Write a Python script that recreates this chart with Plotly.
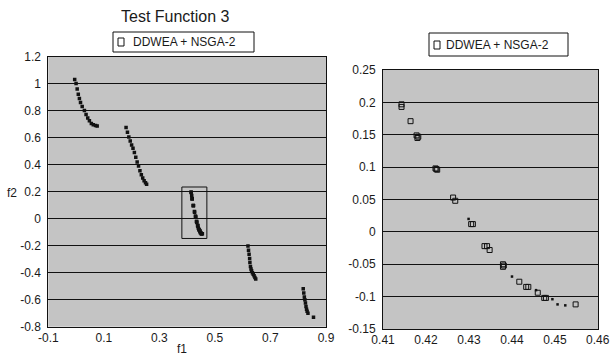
import plotly.graph_objects as go

# ---------------- data ----------------
# Left panel: whole Pareto front (f1, f2), segments other than the boxed one
front_f1 = [-0.005, 0.000, 0.004, 0.008, 0.012, 0.016, 0.022, 0.030, 0.036, 0.042, 0.048, 0.055, 0.062, 0.070, 0.076,
            0.180, 0.185, 0.190, 0.195, 0.200, 0.205, 0.210, 0.215, 0.220, 0.225, 0.230, 0.235, 0.240, 0.245, 0.250, 0.254,
            0.619, 0.621, 0.623, 0.625, 0.626, 0.628, 0.630, 0.632, 0.635, 0.638, 0.641, 0.644, 0.647,
            0.818, 0.820, 0.822, 0.824, 0.826, 0.828, 0.830, 0.832, 0.835, 0.855]
front_f2 = [1.03, 1.00, 0.96, 0.92, 0.89, 0.86, 0.83, 0.80, 0.77, 0.745, 0.725, 0.705, 0.695, 0.690, 0.685,
            0.675, 0.640, 0.605, 0.575, 0.545, 0.520, 0.490, 0.455, 0.420, 0.390, 0.355, 0.325, 0.300, 0.280, 0.265, 0.255,
            -0.203, -0.235, -0.264, -0.295, -0.325, -0.355, -0.372, -0.386, -0.400, -0.412, -0.422, -0.435, -0.447,
            -0.520, -0.550, -0.580, -0.600, -0.625, -0.650, -0.670, -0.685, -0.700, -0.730]

# Boxed segment (zoomed in the right panel): square markers
seg_f1 = [0.4143, 0.4143, 0.4164, 0.4178, 0.4182, 0.4180, 0.4222, 0.4226, 0.4224,
          0.4263, 0.4268, 0.4305, 0.4309, 0.4336, 0.4342, 0.4348,
          0.4379, 0.4379, 0.4381, 0.4417, 0.4433, 0.4438, 0.4460, 0.4475, 0.4479, 0.4548]
seg_f2 = [0.197, 0.193, 0.171, 0.149, 0.147, 0.145, 0.098, 0.096, 0.097,
          0.053, 0.048, 0.012, 0.012, -0.022, -0.022, -0.028,
          -0.050, -0.054, -0.052, -0.077, -0.085, -0.085, -0.094, -0.102, -0.102, -0.112]
# Boxed segment: tiny points
dot_f1 = [0.4299, 0.4400, 0.4456, 0.4494, 0.4506, 0.4524]
dot_f2 = [0.020, -0.069, -0.090, -0.104, -0.112, -0.1135]

# Axis ticks
left_xticks = [-0.1, 0.1, 0.3, 0.5, 0.7, 0.9]
left_xlabels = ["-0.1", "0.1", "0.3", "0.5", "0.7", "0.9"]
left_yticks = [-0.8, -0.6, -0.4, -0.2, 0, 0.2, 0.4, 0.6, 0.8, 1.0, 1.2]
left_ylabels = ["-0.8", "-0.6", "-0.4", "-0.2", "0", "0.2", "0.4", "0.6", "0.8", "1", "1.2"]
right_xticks = [0.41, 0.42, 0.43, 0.44, 0.45, 0.46]
right_xlabels = ["0.41", "0.42", "0.43", "0.44", "0.45", "0.46"]
right_yticks = [-0.15, -0.1, -0.05, 0, 0.05, 0.1, 0.15, 0.2, 0.25]
right_ylabels = ["-0.15", "-0.1", "-0.05", "0", "0.05", "0.1", "0.15", "0.2", "0.25"]

# zoom box drawn on the left panel
zoom_box = dict(x0=0.381, x1=0.471, y0=-0.147, y1=0.234)

title_text = "Test Function 3"
series_name = "DDWEA + NSGA-2"

# ---------------- figure ----------------
W, H = 610, 358
def px(p):
    return p / W
def py(p):
    return 1 - p / H

FONT = "Liberation Sans, Arial, sans-serif"
BG = "#c4c4c4"
INK = "#1a1a1a"
EPS = 1e-5

fig = go.Figure()

fig.add_trace(go.Scatter(
    x=front_f1 + seg_f1 + dot_f1, y=front_f2 + seg_f2 + dot_f2,
    mode="markers", name=series_name, showlegend=False,
    marker=dict(symbol="square", size=3.5, color="#111111", line=dict(width=0)),
    xaxis="x", yaxis="y"))

fig.add_trace(go.Scatter(
    x=seg_f1, y=seg_f2, mode="markers", name=series_name, showlegend=False,
    marker=dict(symbol="square-open", size=5, color="#111111", line=dict(width=1, color="#111111")),
    xaxis="x2", yaxis="y2"))
fig.add_trace(go.Scatter(
    x=dot_f1, y=dot_f2, mode="markers", name=series_name, showlegend=False,
    marker=dict(symbol="square", size=2.5, color="#111111"),
    xaxis="x2", yaxis="y2"))

axis_common = dict(showline=True, mirror=True, linecolor="#111111", linewidth=1,
                   zeroline=False, ticks="", automargin=False, ticklabeloverflow="allow",
                   tickfont=dict(family=FONT, size=12, color=INK),
                   fixedrange=True)

# the last right-panel x label sits at the page edge; it is drawn as an annotation
right_xticktext = right_xlabels[:-1] + [""]

fig.update_layout(
    template="none",
    width=W, height=H,
    margin=dict(l=0, r=0, t=0, b=0, pad=0, autoexpand=False),
    paper_bgcolor="white", plot_bgcolor=BG,
    font=dict(family=FONT, color=INK),
    showlegend=False,
    xaxis=dict(domain=[px(48.3), px(326)], range=[-0.1 - EPS, 0.9 + EPS], tickmode="array",
               tickvals=left_xticks, ticktext=left_xlabels, showgrid=False,
               anchor="y", **axis_common),
    yaxis=dict(domain=[py(326.7), py(56.5)], range=[-0.8 - EPS, 1.2 + EPS], tickmode="array",
               tickvals=left_yticks, ticktext=left_ylabels, showgrid=True,
               gridcolor="#111111", gridwidth=1, anchor="x", ticklabelstandoff=4, **axis_common),
    xaxis2=dict(domain=[px(383), px(598)], range=[0.41 - EPS, 0.46 + EPS], tickmode="array",
                tickvals=right_xticks, ticktext=right_xticktext, showgrid=False,
                anchor="y2", **axis_common),
    yaxis2=dict(domain=[py(329), py(70)], range=[-0.15 - EPS, 0.25 + EPS], tickmode="array",
                tickvals=right_yticks, ticktext=right_ylabels, showgrid=True,
                gridcolor="#111111", gridwidth=1, anchor="x2", ticklabelstandoff=4, **axis_common),
)

shapes = [
    dict(type="rect", xref="x", yref="y", line=dict(color="#111111", width=1),
         fillcolor="rgba(0,0,0,0)", **zoom_box),
]
annotations = [
    dict(text=title_text, x=px(175), y=py(17), xref="paper", yref="paper",
         xanchor="center", yanchor="middle",
         showarrow=False, font=dict(family=FONT, size=16, color=INK)),
    dict(text="f2", x=px(19), y=py(193), xref="paper", yref="paper", xanchor="right",
         yanchor="middle",
         showarrow=False, font=dict(family=FONT, size=12, color=INK)),
    dict(text="f1", x=px(182), y=py(349), xref="paper", yref="paper",
         xanchor="center", yanchor="middle",
         showarrow=False, font=dict(family=FONT, size=12, color=INK)),
    dict(text=right_xlabels[-1], x=right_xticks[-1], y=py(339.5), xref="x2", yref="paper",
         xanchor="center", yanchor="middle", showarrow=False,
         font=dict(family=FONT, size=12, color=INK)),
]

# legend boxes (box, open-square symbol, label)
for (bx0, bx1, by0, by1, sx, sy, tx) in [(113, 254, 32, 52, 121, 42, 131),
                                         (429, 568, 33, 56, 437, 45, 444)]:
    shapes.append(dict(type="rect", xref="paper", yref="paper", x0=px(bx0), x1=px(bx1),
                       y0=py(by1), y1=py(by0), line=dict(color="#111111", width=1),
                       fillcolor="white"))
    shapes.append(dict(type="rect", xref="paper", yref="paper", x0=px(sx - 3), x1=px(sx + 3),
                       y0=py(sy + 4), y1=py(sy - 4), line=dict(color="#111111", width=1),
                       fillcolor="white"))
    annotations.append(dict(text=series_name, x=px(tx), y=py(sy), xref="paper", yref="paper",
                            xanchor="left", yanchor="middle", showarrow=False,
                            font=dict(family=FONT, size=12, color=INK)))

fig.update_layout(shapes=shapes, annotations=annotations)

fig.write_html("out.html", config={"displayModeBar": False},
               post_script="document.body.style.margin='0px';document.body.style.overflow='hidden';")
